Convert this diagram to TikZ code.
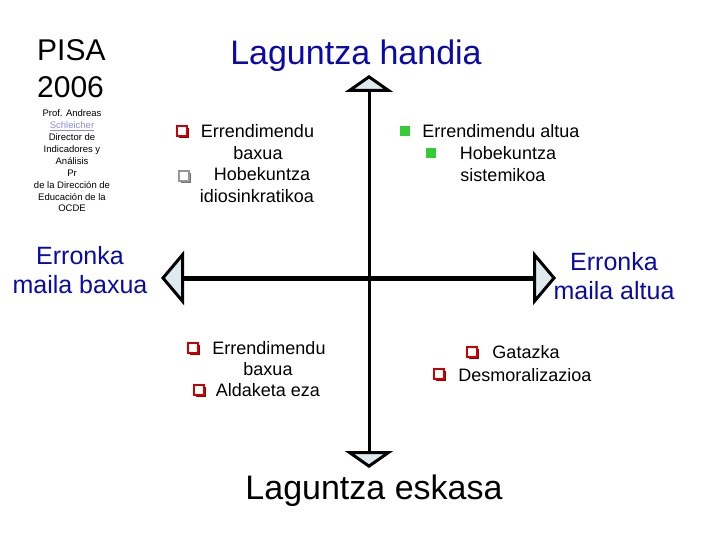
\documentclass[tikz,border=0pt]{standalone}
\usepackage{fontspec}
\setmainfont{Liberation Sans}
\usetikzlibrary{arrows.meta,shadows}
\definecolor{titleblue}{RGB}{10,10,170}
\definecolor{linkblue}{RGB}{140,140,220}
\definecolor{boxred}{RGB}{204,0,0}
\definecolor{boxgrey}{RGB}{150,150,150}
\definecolor{boxgreen}{RGB}{51,204,51}
\definecolor{tipfill}{RGB}{222,234,238}

\begin{document}
\begin{tikzpicture}[x=1pt,y=-1pt,
  qbox/.style={draw=#1, fill=white, line width=1.8pt, minimum size=10pt, inner sep=0pt,
    drop shadow={fill=#1!75!black, shadow xshift=2pt, shadow yshift=-2pt, opacity=1}},
  gbox/.style={fill=boxgreen, minimum size=10pt, inner sep=0pt},
  item/.style={font=\fontsize{18}{21}\selectfont, inner sep=0pt},
  bigtitle/.style={font=\fontsize{34}{40}\selectfont, inner sep=0pt},
  sidetitle/.style={font=\fontsize{25}{29}\selectfont, text=titleblue, align=center, inner sep=0pt},
  vaxis/.style={line width=3pt,
    {Triangle[length=17pt,width=48pt,fill=tipfill,line width=3pt]}-{Triangle[length=17pt,width=48pt,fill=tipfill,line width=3pt]}},
  haxis/.style={line width=5pt,
    {Triangle[length=23pt,width=54pt,fill=tipfill,line width=3pt]}-{Triangle[length=23pt,width=54pt,fill=tipfill,line width=3pt]}}]
\useasboundingbox (0,0) rectangle (720,540);

% titles
\node[font=\fontsize{30}{37}\selectfont, align=left, anchor=west, inner sep=0pt] (pisa) at (37,69) {PISA\\2006};
\node[font=\fontsize{9.5}{11.9}\selectfont, align=center, inner sep=0pt] (author) at (72,161)
  {Prof. Andreas\\\textcolor{linkblue}{\underline{Schleicher}}\\Director de\\Indicadores y\\Análisis\\Pr\\de la Dirección de\\Educación de la\\OCDE};
\node[bigtitle, text=titleblue] (high) at (356,56) {Laguntza handia};
\node[bigtitle] (low) at (374,491) {Laguntza eskasa};
\node[sidetitle] (lowrisk) at (80,270) {Erronka\\maila baxua};
\node[sidetitle] (highrisk) at (614,276) {Erronka\\maila altua};

% axes
\coordinate (top) at (369,75);
\coordinate (bottom) at (369,468);
\coordinate (left) at (161,278);
\coordinate (right) at (556,278);
\draw[vaxis] (bottom) -- (top);
\draw[haxis] (left) -- (right);

% upper left
\node[qbox=boxred] (ul1) at (182,131) {};
\node[item] (ul1t) at (257.5,131) {Errendimendu};
\node[item] (ul2t) at (258,153) {baxua};
\node[qbox=boxgrey] (ul3) at (184,176) {};
\node[item] (ul3t) at (262,174) {Hobekuntza};
\node[item] (ul4t) at (257,196) {idiosinkratikoa};

% upper right
\node[gbox] (ur1) at (405,131) {};
\node[item] (ur1t) at (501,131) {Errendimendu altua};
\node[gbox] (ur2) at (431,153) {};
\node[item] (ur2t) at (508,153) {Hobekuntza};
\node[item] (ur3t) at (503,175) {sistemikoa};

% lower left
\node[qbox=boxred] (ll1) at (193,348) {};
\node[item] (ll1t) at (269,348) {Errendimendu};
\node[item] (ll2t) at (268,369) {baxua};
\node[qbox=boxred] (ll3) at (199,390) {};
\node[item] (ll3t) at (268,390) {Aldaketa eza};

% lower right
\node[qbox=boxred] (lr1) at (472,352) {};
\node[item] (lr1t) at (526,352) {Gatazka};
\node[qbox=boxred] (lr2) at (439,374) {};
\node[item] (lr2t) at (525,375) {Desmoralizazioa};
\end{tikzpicture}
\end{document}
